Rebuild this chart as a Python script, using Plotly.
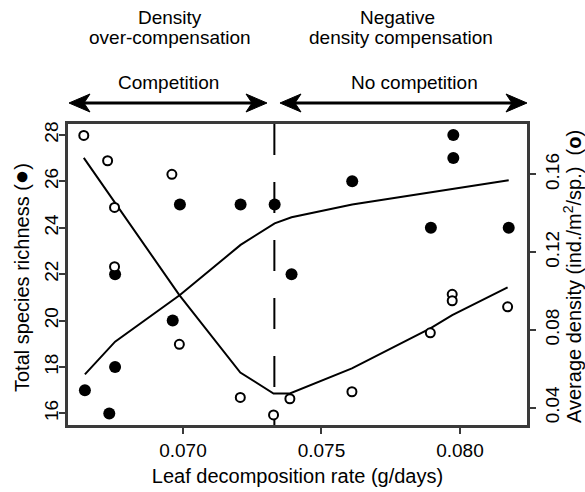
import plotly.graph_objects as go

# ---------------- data ----------------
richness_x = [0.06646, 0.06734, 0.06755, 0.06755, 0.06963, 0.06989, 0.07208,
              0.07331, 0.07392, 0.07611, 0.07895, 0.07976, 0.07976, 0.08176]
richness = [17, 16, 22, 18, 20, 25, 25, 25, 22, 26, 24, 28, 27, 24]

density_x = [0.06642, 0.06728, 0.06753, 0.06753, 0.06960, 0.06987, 0.07207,
             0.07327, 0.07386, 0.07610, 0.07893, 0.07972, 0.07972, 0.08172]
density = [0.180, 0.167, 0.143, 0.1125, 0.160, 0.0726, 0.0453,
           0.0363, 0.0446, 0.0482, 0.0785, 0.0983, 0.0950, 0.0919]

richness_fit_x = [0.06646, 0.06755, 0.06989, 0.07208, 0.07331, 0.07392,
                  0.07611, 0.07976, 0.08176]
richness_fit = [17.68, 19.09, 21.10, 23.26, 24.19, 24.45, 25.00, 25.67, 26.05]

density_fit_x = [0.06642, 0.06987, 0.07207, 0.07327, 0.07386, 0.07610,
                 0.07893, 0.07972, 0.08172]
density_fit = [0.1685, 0.0979, 0.0581, 0.0473, 0.0473, 0.0602, 0.0808,
               0.0876, 0.1019]

breakpoint_x = 0.0733

x_ticks = [0.070, 0.075, 0.080]
y_ticks = [16, 18, 20, 22, 24, 26, 28]
y2_ticks = [0.04, 0.08, 0.12, 0.16]

# ---------------- figure ----------------
FONT = "Liberation Sans, Arial, sans-serif"
AX = "#3a3a3a"
W, H = 585, 492
BOX_L, BOX_R, BOX_T, BOX_B = 68, 527, 124, 425   # plot box in window pixels
ML, MT = BOX_L, BOX_T
MR, MB = W - BOX_R, H - BOX_B
PW, PH = BOX_R - BOX_L, BOX_B - BOX_T


def px2paper(px, py):
    return (px - BOX_L) / PW, (BOX_B - py) / PH


fig = go.Figure()

fig.add_trace(go.Scatter(x=richness_fit_x, y=richness_fit, mode="lines",
                         line=dict(color="black", width=2), showlegend=False,
                         hoverinfo="skip"))
fig.add_trace(go.Scatter(x=density_fit_x, y=density_fit, mode="lines", yaxis="y2",
                         line=dict(color="black", width=2), showlegend=False,
                         hoverinfo="skip"))
fig.add_trace(go.Scatter(x=richness_x, y=richness, mode="markers",
                         marker=dict(symbol="circle", size=12, color="black"),
                         showlegend=False, cliponaxis=False))
fig.add_trace(go.Scatter(x=density_x, y=density, mode="markers", yaxis="y2",
                         marker=dict(symbol="circle", size=9, color="white",
                                     line=dict(color="black", width=2)),
                         showlegend=False, cliponaxis=False))

fig.add_shape(type="line", xref="x", yref="paper", x0=breakpoint_x, x1=breakpoint_x,
              y0=1, y1=0, layer="below",
              line=dict(color="black", width=2, dash="31px,27px"))

axis_common = dict(showgrid=False, zeroline=False, showline=True, linecolor=AX,
                   linewidth=2.5, ticks="outside", ticklen=6, tickwidth=1.5,
                   tickcolor=AX, automargin=False,
                   tickfont=dict(family=FONT, size=19, color="black"))

fig.update_layout(
    width=W, height=H,
    margin=dict(l=ML, r=MR, t=MT, b=MB, autoexpand=False),
    paper_bgcolor="white", plot_bgcolor="white",
    font=dict(family=FONT, size=19, color="black"),
    xaxis=dict(range=[0.06585, 0.08242], tickvals=x_ticks, tickformat=".3f",
               mirror=True,
               title=dict(text="Leaf decomposition rate (g/days)",
                          font=dict(family=FONT, size=20), standoff=10),
               **axis_common),
    yaxis=dict(range=[15.50, 28.47], tickvals=y_ticks, tickangle=-90,
               ticklabelstandoff=-6, **axis_common),
    yaxis2=dict(range=[0.0311, 0.1859], tickvals=y2_ticks, tickformat=".2f",
                tickangle=-90, overlaying="y", side="right",
                **axis_common),
)


def txt(s, px, py, size=19, angle=0):
    x, y = px2paper(px, py)
    fig.add_annotation(text=s, x=x, y=y, xref="paper", yref="paper",
                       showarrow=False, xanchor="center", yanchor="middle",
                       textangle=angle,
                       font=dict(family=FONT, size=size, color="black"))


txt("Density", 170, 17)
txt("over-compensation", 170, 38)
txt("Competition", 168, 82)
txt("Negative", 397, 17)
txt("density compensation", 400.5, 38)
txt("No competition", 414, 82)
# y-axis titles
txt('Total species richness (<span style="font-size:24px">●</span>)', 20, 278,
    size=20, angle=-90)
txt("Average density (ind./m<sup>2</sup>/sp.)  (<b>o</b>)", 572, 277, size=20, angle=-90)


def double_arrow(x_left, x_right, y):
    """Double-headed arrow drawn as shapes (pixel geometry -> paper coords)."""
    L, N, HH = 21, 15, 9  # head length, notch back, half height
    x0, y0 = px2paper(x_left + N - 1, y)
    x1, y1 = px2paper(x_right - N + 1, y)
    fig.add_shape(type="line", xref="paper", yref="paper", x0=x0, y0=y0, x1=x1, y1=y1,
                  line=dict(color="black", width=3))
    for tip, d in ((x_right, -1), (x_left, 1)):
        pts = [(tip, y), (tip + d * L, y - HH), (tip + d * N, y), (tip + d * L, y + HH)]
        pp = [px2paper(a, b) for a, b in pts]
        path = "M " + " L ".join(f"{a:.5f},{b:.5f}" for a, b in pp) + " Z"
        fig.add_shape(type="path", xref="paper", yref="paper", path=path,
                      fillcolor="black", line=dict(color="black", width=1))


double_arrow(69, 267, 103)
double_arrow(280, 527, 103)

fig.write_html("out.html", config={"displayModeBar": False},
               post_script="document.body.style.margin='0';"
                           "document.body.style.overflow='hidden';")
